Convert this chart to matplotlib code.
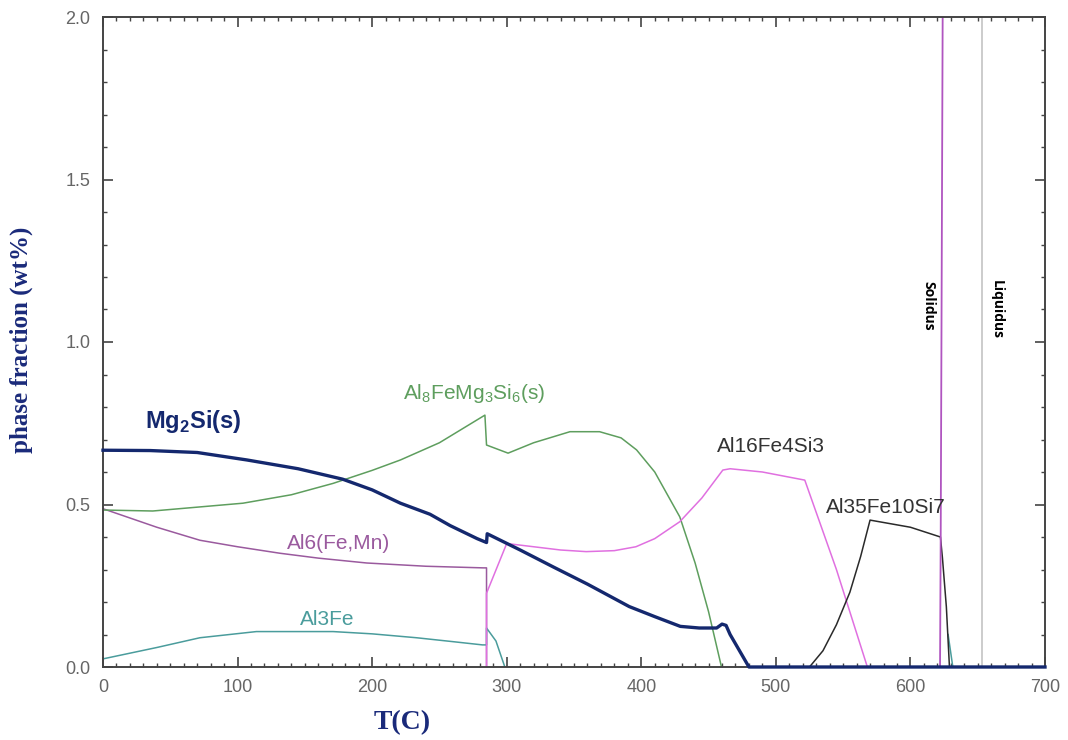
import matplotlib
matplotlib.use("Agg")
import matplotlib.pyplot as plt
from matplotlib.ticker import MultipleLocator, FormatStrFormatter

plt.rcParams['font.family'] = ['Liberation Sans', 'DejaVu Sans']
plt.rcParams['mathtext.fontset'] = 'custom'
plt.rcParams['mathtext.rm'] = 'Liberation Sans'
plt.rcParams['mathtext.bf'] = 'Liberation Sans:bold'

# phase fraction curves (T in C, fraction in wt%)
mg2si_T = [0, 35, 70, 107, 145, 178, 200, 221, 243, 258, 278, 285, 285.5, 310, 335,
           360, 391, 410, 429, 443, 456, 460, 463, 466, 480, 700]
mg2si_y = [0.667, 0.666, 0.66, 0.637, 0.61, 0.578, 0.545, 0.504, 0.47, 0.435, 0.395,
           0.383, 0.41, 0.36, 0.307, 0.255, 0.186, 0.155, 0.125, 0.12, 0.12, 0.132,
           0.128, 0.10, 0.0, 0.0]

al8_T = [0, 37, 104, 140, 171, 200, 221, 250, 283.8, 285, 301, 320, 347, 369, 385,
         396.5, 410, 428.6, 440, 450, 459.6]
al8_y = [0.483, 0.48, 0.504, 0.53, 0.565, 0.605, 0.637, 0.69, 0.775, 0.683, 0.658,
         0.69, 0.724, 0.724, 0.705, 0.668, 0.6, 0.462, 0.32, 0.17, 0.0]

al6_T = [0, 40, 72, 100, 131.5, 160, 196, 240, 282.6, 285, 285]
al6_y = [0.487, 0.43, 0.39, 0.37, 0.35, 0.335, 0.32, 0.31, 0.305, 0.305, 0.0]

al16_T = [285, 285, 300, 320, 340, 359, 380, 396, 410, 428.6, 445, 460.6, 466, 490,
          521.5, 545, 568]
al16_y = [0.0, 0.227, 0.38, 0.37, 0.36, 0.355, 0.358, 0.37, 0.395, 0.447, 0.52,
          0.606, 0.61, 0.60, 0.575, 0.30, 0.0]

al35_T = [525, 535, 545, 555, 563, 570, 600, 622.3, 623.8, 626.7, 629]
al35_y = [0.0, 0.05, 0.13, 0.23, 0.34, 0.452, 0.43, 0.40, 0.335, 0.185, 0.0]

al3fe_T = [0, 40, 72, 114, 171, 200, 233, 260, 282, 285, 285, 292, 298.6]
al3fe_y = [0.025, 0.06, 0.09, 0.109, 0.109, 0.102, 0.09, 0.078, 0.068, 0.068, 0.12,
           0.08, 0.0]
al3fe2_T = [628, 631.5]
al3fe2_y = [0.10, 0.0]

liquid_T = [622, 622.5, 624]
liquid_y = [0.0, 0.4, 2.05]
liquidus_T = 653.5

navy = '#14286e'
green = '#5e9e5e'
magenta = '#e070e0'
purple = '#9a5a9e'
teal = '#4a9c9c'

fig = plt.figure(figsize=(10.68, 7.4), dpi=100)
ax = fig.add_axes([103 / 1068, 1 - 667 / 740, 942 / 1068, 650 / 740])

ax.plot(al6_T, al6_y, color=purple, lw=1.1)
ax.plot(al3fe_T, al3fe_y, color=teal, lw=1.1)
ax.plot(al3fe2_T, al3fe2_y, color=teal, lw=1.1)
ax.plot(al8_T, al8_y, color=green, lw=1.1)
ax.plot(al16_T, al16_y, color=magenta, lw=1.1)
ax.plot(al35_T, al35_y, color='#2a2a2a', lw=1.1)
ax.plot(liquid_T, liquid_y, color='#b055c0', lw=1.3)
ax.axvline(liquidus_T, color='#c8c8c8', lw=1.3)
ax.plot(mg2si_T, mg2si_y, color=navy, lw=2.4, clip_on=False, zorder=3)

lab = dict(fontsize=15, va='center', ha='left')
ax.text(31, 0.754, r'Mg$_\mathbf{2}$Si(s)', color=navy, fontweight='bold',
        fontsize=17, va='center', ha='left')
ax.text(223, 0.843, r'Al$_8$FeMg$_3$Si$_6$(s)', color=green, **lab)
ax.text(456, 0.677, 'Al16Fe4Si3', color='#333333', **lab)
ax.text(537, 0.49, 'Al35Fe10Si7', color='#333333', **lab)
ax.text(137, 0.38, 'Al6(Fe,Mn)', color=purple, **lab)
ax.text(146, 0.145, 'Al3Fe', color=teal, **lab)
ax.text(613, 1.11, 'Solidus', rotation=-90, fontsize=10, fontweight='bold',
        ha='center', va='center', family=['Open Sans', 'DejaVu Sans'])
ax.text(664, 1.10, 'Liquidus', rotation=-90, fontsize=10, fontweight='bold',
        ha='center', va='center', family=['Open Sans', 'DejaVu Sans'])

ax.set_xlim(0, 700)
ax.set_ylim(0, 2.0)
ax.xaxis.set_major_locator(MultipleLocator(100))
ax.xaxis.set_minor_locator(MultipleLocator(10))
ax.yaxis.set_major_locator(MultipleLocator(0.5))
ax.yaxis.set_minor_locator(MultipleLocator(0.1))
ax.yaxis.set_major_formatter(FormatStrFormatter('%.1f'))
ax.tick_params(which='both', direction='in', top=True, right=True, color='#444444',
               labelsize=13, labelcolor='#666666', pad=9)
ax.tick_params(which='major', length=7, width=1.2)
ax.tick_params(which='minor', length=3, width=1.0)
for s in ax.spines.values():
    s.set_color('#444444')
    s.set_linewidth(1.4)

ax.set_xlabel('T(C)', fontsize=20, fontweight='bold', color='#1a2a7a',
              family=['Liberation Serif', 'DejaVu Serif'])
ax.xaxis.set_label_coords(0.318, -0.066)
ax.set_ylabel('phase fraction (wt%)', fontsize=18, fontweight='bold', color='#1a2a7a',
              family=['Liberation Serif', 'DejaVu Serif'])
ax.yaxis.set_label_coords(-0.074, 0.503)

fig.savefig('out.png', dpi=100)
